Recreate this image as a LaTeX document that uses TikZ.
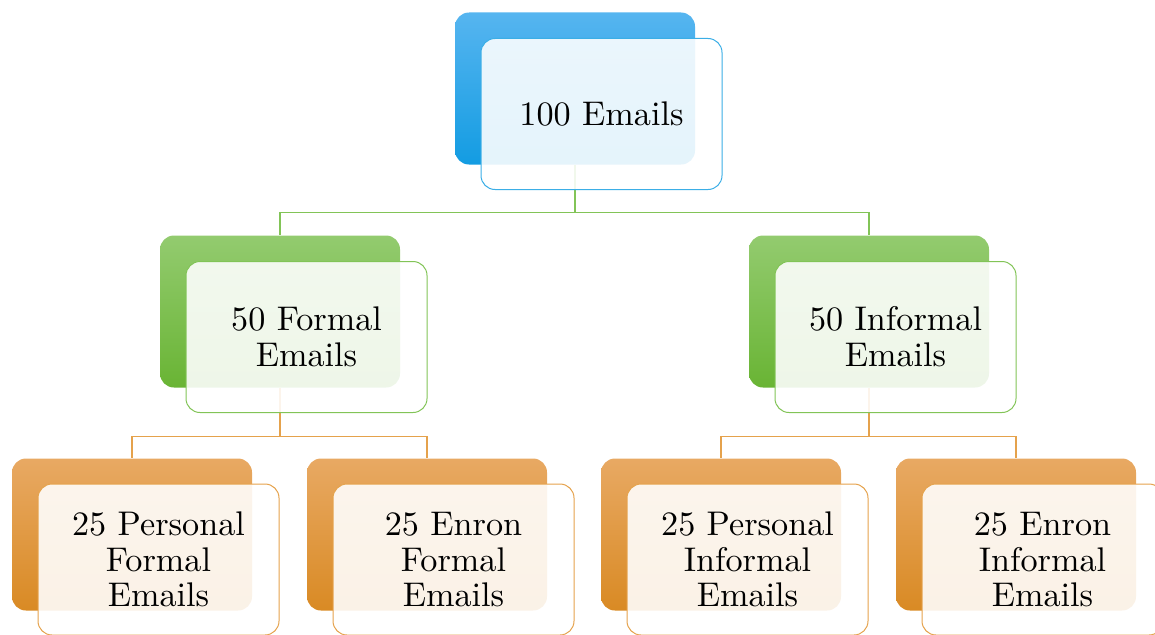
\documentclass[tikz,border=0pt]{standalone}
\usepackage{graphicx}
\pgfdeclarelayer{links}
\pgfsetlayers{links,main}

\definecolor{blueTop}{HTML}{56B5F0}
\definecolor{blueMid}{HTML}{21A8F0}
\definecolor{blueBot}{HTML}{139CE2}
\definecolor{blueLine}{HTML}{3BAEE6}
\definecolor{greenTop}{HTML}{93CB6F}
\definecolor{greenMid}{HTML}{7CC24B}
\definecolor{greenBot}{HTML}{69B434}
\definecolor{greenLine}{HTML}{82C457}
\definecolor{orangeTop}{HTML}{E8A963}
\definecolor{orangeMid}{HTML}{E99C33}
\definecolor{orangeBot}{HTML}{D98A24}
\definecolor{orangeLine}{HTML}{E5A24C}

% card label: 10pt text blown up, keeping the 10pt design size;
% extra headroom sets the lines slightly below the card centre
\newcommand{\cardlabel}[1]{\scalebox{3.42}{\fontsize{10}{10.4}\selectfont
  \raisebox{0pt}[\dimexpr\height+2.6pt\relax][\depth]{%
  \begin{tabular}{@{}c@{}}#1\end{tabular}}}}

\tikzset{
  backbox/.style={rounded corners=14pt, minimum width=240pt, minimum height=152pt,
    inner sep=0pt, draw=none},
  blueback/.style={backbox, top color=blueTop, middle color=blueMid, bottom color=blueBot},
  greenback/.style={backbox, top color=greenTop, middle color=greenMid, bottom color=greenBot},
  orangeback/.style={backbox, top color=orangeTop, middle color=orangeMid, bottom color=orangeBot},
  frontbox/.style={rounded corners=14pt, minimum width=241pt, minimum height=151pt,
    inner sep=0pt, fill=white, fill opacity=0.89, text opacity=1, line width=1pt,
    text=black},
  bluefront/.style={frontbox, draw=blueLine},
  greenfront/.style={frontbox, draw=greenLine},
  orangefront/.style={frontbox, draw=orangeLine},
  greenlink/.style={draw=greenLine, line width=1.2pt},
  orangelink/.style={draw=orangeLine, line width=1.2pt},
}

\begin{document}
\begin{tikzpicture}[x=1pt,y=1pt]
  \useasboundingbox (0,0) rectangle (1155,-634);

  % back cards
  \node[blueback]   (root)  at (575,-88.5)  {};
  \node[greenback]  (form)  at (280,-311.5) {};
  \node[greenback]  (inform) at (869,-311.5) {};
  \node[orangeback] (pf)    at (132,-534.5) {};
  \node[orangeback] (ef)    at (427,-534.5) {};
  \node[orangeback] (pi)    at (721,-534.5) {};
  \node[orangeback] (ei)    at (1016,-534.5) {};

  % front cards with labels
  \node[bluefront]   (rootT)   at ([shift={(26.5,-25.5)}]root.center)   {\cardlabel{100 Emails}};
  \node[greenfront]  (formT)   at ([shift={(26.5,-25.5)}]form.center)   {\cardlabel{50 Formal\\Emails}};
  \node[greenfront]  (informT) at ([shift={(26.5,-25.5)}]inform.center) {\cardlabel{50 Informal\\Emails}};
  \node[orangefront] (pfT)     at ([shift={(26.5,-25)}]pf.center)       {\cardlabel{25 Personal\\Formal\\Emails}};
  \node[orangefront] (efT)     at ([shift={(26.5,-25)}]ef.center)       {\cardlabel{25 Enron\\Formal\\Emails}};
  \node[orangefront] (piT)     at ([shift={(26.5,-25)}]pi.center)       {\cardlabel{25 Personal\\Informal\\Emails}};
  \node[orangefront] (eiT)     at ([shift={(26.5,-25)}]ei.center)       {\cardlabel{25 Enron\\Informal\\Emails}};

  % tree connectors
  \begin{pgfonlayer}{links}
    \draw[greenlink] (root.south) -- ++(0,-47.5) -| (form.north);
    \draw[greenlink] (root.south) -- ++(0,-47.5) -| (inform.north);
    \draw[orangelink] (form.south) -- ++(0,-48.5) -| (pf.north);
    \draw[orangelink] (form.south) -- ++(0,-48.5) -| (ef.north);
    \draw[orangelink] (inform.south) -- ++(0,-48.5) -| (pi.north);
    \draw[orangelink] (inform.south) -- ++(0,-48.5) -| (ei.north);
  \end{pgfonlayer}
\end{tikzpicture}
\end{document}
